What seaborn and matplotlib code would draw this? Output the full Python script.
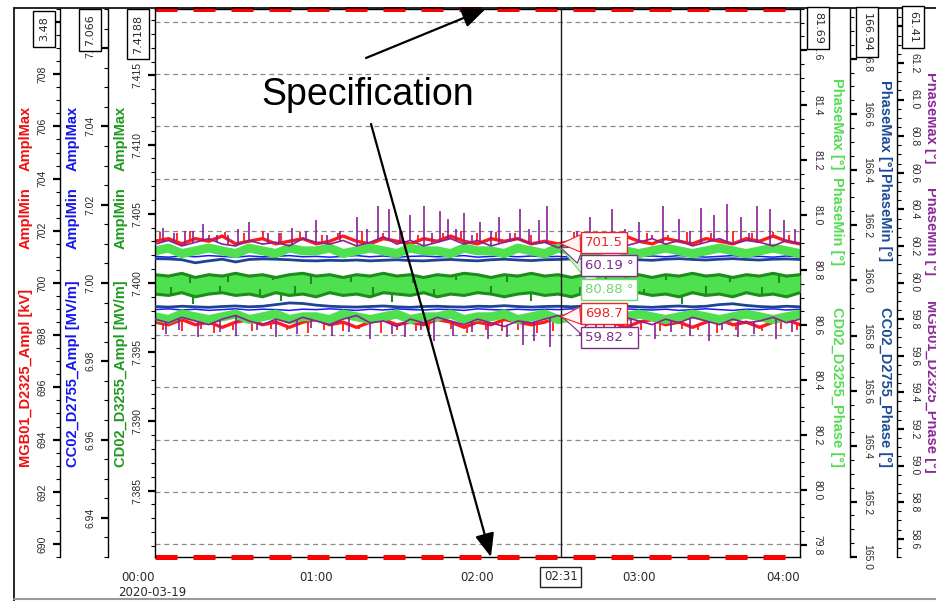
import numpy as np
import pandas as pd
import matplotlib
matplotlib.use("Agg")
import matplotlib.pyplot as plt
import matplotlib.dates as mdates
from matplotlib.lines import Line2D
from matplotlib.ticker import MultipleLocator, FormatStrFormatter
import seaborn as sns

sns.set_style("white")
plt.rcParams["font.family"] = ["Liberation Sans", "DejaVu Sans"]

# ---------------------------------------------------------------- data
DAY = "2020-03-19"
CURSOR = "02:31"
minutes = [0, 5, 10, 15, 20, 25, 30, 35, 40, 45, 50, 55, 60, 65, 70, 75, 80,
           85, 90, 95, 100, 105, 110, 115, 120, 125, 130, 135, 140, 145, 150,
           155, 160, 165, 170, 175, 180, 185, 190, 195, 200, 205, 210, 215,
           220, 225, 230, 235, 240]

# MGB01_D2325 amplitude [kV]
mgb_ampl_max = [701.6, 701.7, 701.5, 701.7, 701.6, 701.8, 701.5,
                701.6, 701.7, 701.5, 701.6, 701.7, 701.5, 701.6,
                701.8, 701.6, 701.5, 701.7, 701.6, 701.5, 701.7,
                701.6, 701.8, 701.6, 701.5, 701.7, 701.6, 701.7,
                701.5, 701.6, 701.5, 701.6, 701.7, 701.5, 701.6,
                701.8, 701.6, 701.5, 701.7, 701.6, 701.5, 701.7,
                701.6, 701.5, 701.7, 701.6, 701.8, 701.6, 701.5]
mgb_ampl_min = [698.5, 698.4, 698.6, 698.4, 698.5, 698.3, 698.5,
                698.6, 698.4, 698.5, 698.3, 698.5, 698.6, 698.4,
                698.5, 698.3, 698.5, 698.6, 698.4, 698.5, 698.4,
                698.6, 698.5, 698.3, 698.5, 698.4, 698.6, 698.5,
                698.4, 698.5, 698.7, 698.5, 698.4, 698.6, 698.5,
                698.3, 698.5, 698.6, 698.4, 698.5, 698.3, 698.5,
                698.6, 698.4, 698.5, 698.3, 698.5, 698.6, 698.4]
mgb_ampl_max_peak_t = [2, 8, 13, 20, 26, 33, 40, 47, 54, 62,
                       68, 77, 85, 92, 98, 107, 114, 120, 127, 134,
                       140, 156, 163, 174, 183, 191, 198, 207, 215, 222,
                       230, 236]
mgb_ampl_max_peak_v = [701.95, 701.9, 702.0, 701.85, 701.95, 701.9, 702.0, 701.9, 701.95, 701.85,
                       701.9, 702.0, 701.9, 701.95, 701.85, 701.9, 702.0, 701.9, 701.95, 701.9,
                       701.85, 701.95, 701.9, 702.0, 701.9, 701.85, 701.95, 701.9, 702.0, 701.9,
                       701.95, 701.85]
mgb_ampl_min_peak_t = [3, 10, 17, 22, 29, 36, 43, 49, 57, 63,
                       70, 76, 84, 90, 97, 102, 110, 116, 123, 129,
                       135, 142, 148, 160, 167, 173, 181, 188, 196, 202,
                       209, 216, 226, 233, 239]
mgb_ampl_min_peak_v = [698.2, 698.15, 698.25, 698.1, 698.2, 698.15, 698.25, 698.2, 698.1, 698.2,
                       698.15, 698.25, 698.1, 698.2, 698.15, 698.2, 698.25, 698.1, 698.2, 698.15,
                       698.2, 698.1, 698.15, 698.25, 698.2, 698.1, 698.2, 698.15, 698.25, 698.2,
                       698.1, 698.2, 698.15, 698.25, 698.2]

# MGB01_D2325 phase [deg]
mgb_phase_max = [60.21, 60.23, 60.20, 60.22, 60.24, 60.21, 60.20,
                 60.23, 60.21, 60.22, 60.20, 60.24, 60.22, 60.21,
                 60.23, 60.20, 60.22, 60.25, 60.21, 60.23, 60.20,
                 60.22, 60.24, 60.21, 60.23, 60.20, 60.22, 60.24,
                 60.21, 60.22, 60.19, 60.22, 60.24, 60.21, 60.23,
                 60.20, 60.22, 60.24, 60.21, 60.23, 60.20, 60.22,
                 60.24, 60.21, 60.23, 60.22, 60.20, 60.23, 60.21]
mgb_phase_min = [59.80, 59.78, 59.81, 59.79, 59.77, 59.80, 59.82,
                 59.79, 59.77, 59.80, 59.78, 59.81, 59.79, 59.77,
                 59.80, 59.82, 59.78, 59.79, 59.76, 59.80, 59.78,
                 59.81, 59.79, 59.77, 59.80, 59.78, 59.76, 59.79,
                 59.78, 59.80, 59.82, 59.79, 59.77, 59.80, 59.78,
                 59.81, 59.79, 59.77, 59.80, 59.78, 59.81, 59.79,
                 59.77, 59.80, 59.78, 59.79, 59.81, 59.78, 59.80]
mgb_phase_max_peak_t = [3, 11, 18, 27, 35, 42, 51, 60, 69, 75,
                        83, 87, 95, 100, 106, 109, 115, 121, 128, 136,
                        143, 146, 162, 170, 180, 189, 195, 203, 208, 213,
                        218, 224, 229, 234,
                        7, 14, 23, 31, 46, 56, 64, 79, 91, 103,
                        112, 118, 125, 132, 139, 157, 166, 175, 185, 199,
                        221, 238]
mgb_phase_max_peak_v = [60.30, 60.28, 60.32, 60.26, 60.33, 60.27, 60.30, 60.34, 60.28, 60.36,
                        60.42, 60.40, 60.37, 60.42, 60.39, 60.35, 60.38, 60.33, 60.36, 60.40,
                        60.34, 60.42, 60.36, 60.40, 60.33, 60.42, 60.35, 60.41, 60.37, 60.43,
                        60.36, 60.42, 60.40, 60.34,
                        60.27, 60.28, 60.26, 60.29, 60.27, 60.28, 60.26, 60.29, 60.28, 60.27,
                        60.29, 60.26, 60.28, 60.27, 60.29, 60.28, 60.27, 60.29, 60.26, 60.28,
                        60.27, 60.29]
mgb_phase_min_peak_t = [4, 9, 16, 24, 30, 38, 45, 53, 58, 66,
                        72, 80, 88, 93, 99, 104, 111, 118, 124, 131,
                        137, 141, 147, 158, 164, 171, 177, 186, 192, 199,
                        206, 211, 217, 223, 231, 237]
mgb_phase_min_peak_v = [59.72, 59.74, 59.70, 59.73, 59.71, 59.74, 59.70, 59.72, 59.75, 59.71,
                        59.73, 59.69, 59.72, 59.70, 59.74, 59.68, 59.71, 59.73, 59.69, 59.70,
                        59.66, 59.68, 59.65, 59.71, 59.74, 59.70, 59.72, 59.69, 59.73, 59.71,
                        59.68, 59.74, 59.70, 59.72, 59.69, 59.73]

# CC02_D2755 amplitude [MV/m]
cc_ampl_max = [7.0068, 7.0066, 7.0069, 7.0067, 7.0070, 7.0068, 7.0066,
               7.0069, 7.0067, 7.0068, 7.0070, 7.0067, 7.0068, 7.0066,
               7.0068, 7.0070, 7.0067, 7.0069, 7.0066, 7.0068, 7.0069,
               7.0067, 7.0068, 7.0070, 7.0066, 7.0068, 7.0069, 7.0067,
               7.0069, 7.0067, 7.0068, 7.0066, 7.0069, 7.0070, 7.0068,
               7.0066, 7.0068, 7.0069, 7.0067, 7.0070, 7.0068, 7.0066,
               7.0068, 7.0070, 7.0067, 7.0068, 7.0066, 7.0069, 7.0067]
cc_ampl_min = [6.9932, 6.9934, 6.9931, 6.9933, 6.9930, 6.9932, 6.9934,
               6.9931, 6.9933, 6.9932, 6.9930, 6.9933, 6.9932, 6.9934,
               6.9932, 6.9930, 6.9933, 6.9931, 6.9934, 6.9932, 6.9931,
               6.9933, 6.9932, 6.9930, 6.9934, 6.9932, 6.9931, 6.9933,
               6.9931, 6.9933, 6.9932, 6.9934, 6.9931, 6.9930, 6.9932,
               6.9934, 6.9932, 6.9931, 6.9933, 6.9930, 6.9932, 6.9934,
               6.9932, 6.9930, 6.9933, 6.9932, 6.9934, 6.9931, 6.9933]

# CC02_D2755 phase [deg]
cc_phase_max = [166.078, 166.077, 166.074, 166.063, 166.070, 166.076, 166.066,
                166.075, 166.077, 166.076, 166.074, 166.071, 166.070, 166.072,
                166.071, 166.073, 166.070, 166.072, 166.074, 166.071, 166.070,
                166.073, 166.075, 166.072, 166.070, 166.074, 166.076, 166.073,
                166.071, 166.074, 166.075, 166.077, 166.074, 166.072, 166.075,
                166.077, 166.074, 166.072, 166.076, 166.078, 166.075, 166.073,
                166.076, 166.078, 166.075, 166.073, 166.076, 166.077, 166.075]
cc_phase_min = [165.905, 165.903, 165.906, 165.904, 165.902, 165.905, 165.907,
                165.904, 165.906, 165.912, 165.918, 165.916, 165.910, 165.906,
                165.904, 165.903, 165.905, 165.907, 165.904, 165.902, 165.905,
                165.906, 165.904, 165.903, 165.906, 165.905, 165.908, 165.905,
                165.903, 165.905, 165.906, 165.904, 165.907, 165.905, 165.903,
                165.906, 165.904, 165.902, 165.905, 165.907, 165.904, 165.906,
                165.912, 165.915, 165.909, 165.905, 165.903, 165.906, 165.904]

# CD02_D3255 amplitude [MV/m]
cd_ampl_max = [7.4006, 7.4005, 7.4007, 7.4004, 7.4006, 7.4005, 7.4007,
               7.4005, 7.4006, 7.4004, 7.4006, 7.4007, 7.4005, 7.4006,
               7.4004, 7.4006, 7.4005, 7.4007, 7.4005, 7.4006, 7.4004,
               7.4006, 7.4005, 7.4007, 7.4006, 7.4004, 7.4006, 7.4005,
               7.4007, 7.4005, 7.4006, 7.4004, 7.4006, 7.4005, 7.4007,
               7.4005, 7.4006, 7.4004, 7.4006, 7.4005, 7.4007, 7.4005,
               7.4006, 7.4004, 7.4006, 7.4005, 7.4007, 7.4005, 7.4006]
cd_ampl_min = [7.3992, 7.3991, 7.3993, 7.3990, 7.3992, 7.3993, 7.3991,
               7.3992, 7.3990, 7.3993, 7.3991, 7.3992, 7.3990, 7.3993,
               7.3991, 7.3992, 7.3990, 7.3993, 7.3992, 7.3991, 7.3993,
               7.3990, 7.3992, 7.3991, 7.3993, 7.3992, 7.3990, 7.3992,
               7.3993, 7.3991, 7.3992, 7.3990, 7.3993, 7.3991, 7.3992,
               7.3990, 7.3993, 7.3991, 7.3992, 7.3990, 7.3993, 7.3991,
               7.3992, 7.3990, 7.3993, 7.3991, 7.3992, 7.3990, 7.3993]
cd_ampl_max_peak_t = [13, 27, 44, 58, 73, 96, 112, 131, 168, 190, 214, 232]
cd_ampl_max_peak_v = [7.4000, 7.4001, 7.4002, 7.3999, 7.4001, 7.4000,
                      7.4002, 7.4001, 7.4000, 7.4002, 7.4001, 7.4000]
cd_ampl_min_peak_t = [6, 24, 39, 52, 81, 104, 125, 158, 182, 205, 226,
                      14, 47, 88, 140, 196]
cd_ampl_min_peak_v = [7.3997, 7.3998, 7.3996, 7.3998, 7.3997, 7.3996,
                      7.3998, 7.3997, 7.3996, 7.3998, 7.3997,
                      7.3985, 7.3987, 7.3986, 7.3987, 7.3985]

# CD02_D3255 phase [deg]
cd_phase_max = [80.87, 80.88, 80.86, 80.87, 80.88, 80.87, 80.86,
                80.88, 80.87, 80.86, 80.88, 80.87, 80.87, 80.88,
                80.86, 80.87, 80.88, 80.87, 80.86, 80.88, 80.87,
                80.87, 80.86, 80.88, 80.87, 80.87, 80.86, 80.88,
                80.87, 80.86, 80.88, 80.87, 80.86, 80.87, 80.88,
                80.87, 80.86, 80.87, 80.88, 80.87, 80.86, 80.87,
                80.88, 80.87, 80.86, 80.87, 80.88, 80.87, 80.86]
cd_phase_min = [80.63, 80.62, 80.64, 80.63, 80.62, 80.63, 80.64,
                80.62, 80.63, 80.64, 80.62, 80.63, 80.63, 80.62,
                80.64, 80.63, 80.62, 80.63, 80.64, 80.62, 80.63,
                80.63, 80.64, 80.62, 80.63, 80.63, 80.64, 80.62,
                80.63, 80.64, 80.62, 80.63, 80.64, 80.63, 80.62,
                80.63, 80.64, 80.63, 80.62, 80.63, 80.64, 80.63,
                80.62, 80.63, 80.64, 80.63, 80.62, 80.63, 80.64]

# specification limits of the MGB01 amplitude [kV]
spec_limits = [689.5, 710.5]

# value shown in the box at the top of each axis
axis_top_labels = ["3.48", "7.066", "7.4188", "81.69", "166.94", "61.41"]

# ---------------------------------------------------------------- colours
RED = "#ff1a1a"
PURPLE = "#8c1f96"
BLUE = "#1a1aff"
NAVY = "#1d4492"
DGREEN = "#1d8c1d"
LGREEN = "#4fe04f"

W, H = 937, 601
fig = plt.figure(figsize=(W / 100, H / 100), dpi=100)


def fx(px):
    return px / W


def fy(py):
    return 1 - py / H


t0 = pd.Timestamp(DAY)
times = t0 + pd.to_timedelta(minutes, unit="min")


def stamp(mins):
    return t0 + pd.to_timedelta(mins, unit="min")


ax_mgb_a = fig.add_axes([fx(155), fy(557), 645 / W, 548 / H])
ax_cc_a = ax_mgb_a.twinx()
ax_cd_p = ax_mgb_a.twinx()
ax_cd_a = ax_mgb_a.twinx()
ax_cc_p = ax_mgb_a.twinx()
ax_mgb_p = ax_mgb_a.twinx()
for z, ax in enumerate([ax_mgb_a, ax_cc_a, ax_cd_p, ax_cd_a, ax_cc_p, ax_mgb_p]):
    ax.set_zorder(z + 1)
    if z:
        ax.patch.set_visible(False)

# ---------------------------------------------------------------- traces
ax_mgb_a.yaxis.grid(True, which="major", color="#8a8a8a", lw=0.9, ls=(0, (4, 3)))
ax_mgb_a.set_axisbelow(True)


def spikes(ax, base, pt, pv, color, lw):
    base_vals = np.interp(pt, minutes, base)
    ax.vlines(stamp(pt), base_vals, pv, color=color, lw=lw)


sns.lineplot(x=times, y=mgb_ampl_max, ax=ax_mgb_a, color=RED, linewidth=2.4)
sns.lineplot(x=times, y=mgb_ampl_min, ax=ax_mgb_a, color=RED, linewidth=2.4)
spikes(ax_mgb_a, mgb_ampl_max, mgb_ampl_max_peak_t, mgb_ampl_max_peak_v, RED, 1.3)
spikes(ax_mgb_a, mgb_ampl_min, mgb_ampl_min_peak_t, mgb_ampl_min_peak_v, RED, 1.3)

sns.lineplot(x=times, y=cc_ampl_max, ax=ax_cc_a, color=BLUE, linewidth=1.1)
sns.lineplot(x=times, y=cc_ampl_min, ax=ax_cc_a, color=BLUE, linewidth=1.1)

sns.lineplot(x=times, y=cd_phase_max, ax=ax_cd_p, color=LGREEN, linewidth=6.5)
sns.lineplot(x=times, y=cd_phase_min, ax=ax_cd_p, color=LGREEN, linewidth=6.5)

ax_cd_a.fill_between(times, cd_ampl_max, cd_ampl_min, color=LGREEN, lw=0)
sns.lineplot(x=times, y=cd_ampl_max, ax=ax_cd_a, color=DGREEN, linewidth=2.2)
sns.lineplot(x=times, y=cd_ampl_min, ax=ax_cd_a, color=DGREEN, linewidth=2.2)
spikes(ax_cd_a, cd_ampl_max, cd_ampl_max_peak_t, cd_ampl_max_peak_v, DGREEN, 1.5)
spikes(ax_cd_a, cd_ampl_min, cd_ampl_min_peak_t, cd_ampl_min_peak_v, DGREEN, 1.5)

sns.lineplot(x=times, y=cc_phase_max, ax=ax_cc_p, color=NAVY, linewidth=2.0)
sns.lineplot(x=times, y=cc_phase_min, ax=ax_cc_p, color=NAVY, linewidth=2.0)

sns.lineplot(x=times, y=mgb_phase_max, ax=ax_mgb_p, color=PURPLE, linewidth=1.2)
sns.lineplot(x=times, y=mgb_phase_min, ax=ax_mgb_p, color=PURPLE, linewidth=1.2)
spikes(ax_mgb_p, mgb_phase_max, mgb_phase_max_peak_t, mgb_phase_max_peak_v, PURPLE, 1.2)
spikes(ax_mgb_p, mgb_phase_min, mgb_phase_min_peak_t, mgb_phase_min_peak_v, PURPLE, 1.2)

# specification limits drawn on the frame
for lim in spec_limits:
    ax_mgb_a.axhline(lim, color="#ff0000", lw=3.6, ls=(0, (4.4, 3.2)),
                     zorder=5, clip_on=False)

# ---------------------------------------------------------------- axes
ax_mgb_a.set_xlim(t0, stamp(240))
ax_mgb_a.set_ylim(*spec_limits)
ax_cc_a.set_ylim(6.930, 7.070)
ax_cd_a.set_ylim(7.3802, 7.4198)
ax_cd_p.set_ylim(79.756, 81.75)
ax_cc_p.set_ylim(165.0, 166.98)
ax_mgb_p.set_ylim(58.50, 61.495)

axis_specs = [
    # axis, side, spine position, major, minor, format
    (ax_mgb_a, "left", -95 / 645, 2, 0.5, "%d"),
    (ax_cc_a, "left", -47 / 645, 0.02, 0.005, "%.2f"),
    (ax_cd_a, "left", 0.0, 0.005, 0.001, "%.3f"),
    (ax_cd_p, "right", 1.0, 0.2, 0.05, "%.1f"),
    (ax_cc_p, "right", 695 / 645, 0.2, 0.05, "%.1f"),
    (ax_mgb_p, "right", 742 / 645, 0.2, 0.05, "%.1f"),
]
for ax, side, pos, major, minor, fmt in axis_specs:
    for s in ["top", "bottom", "left", "right"]:
        ax.spines[s].set_visible(False)
    ax.spines[side].set_visible(True)
    ax.spines[side].set_position(("axes", pos))
    ax.spines[side].set_color("black")
    ax.spines[side].set_linewidth(1.0)
    if side == "left":
        ax.yaxis.set_ticks_position("left")
    else:
        ax.yaxis.set_ticks_position("right")
    ax.yaxis.set_major_locator(MultipleLocator(major))
    ax.yaxis.set_minor_locator(MultipleLocator(minor))
    ax.yaxis.set_major_formatter(FormatStrFormatter(fmt))
    ax.tick_params(axis="y", which="major", length=5, width=1.6, direction="out",
                   colors="black", labelcolor="#2a2a2a", labelsize=7.5, pad=4,
                   labelrotation=90 if side == "left" else 270)
    ax.tick_params(axis="y", which="minor", length=3, width=0.8, direction="out",
                   colors="black")
    ax.set_ylabel("")
    ax.set_xlabel("")

ax_mgb_a.spines["top"].set_visible(True)
ax_mgb_a.spines["bottom"].set_visible(True)
for s in ["top", "bottom"]:
    ax_mgb_a.spines[s].set_color("black")
    ax_mgb_a.spines[s].set_linewidth(1.0)

ax_mgb_a.xaxis.set_major_locator(mdates.HourLocator())
ax_mgb_a.xaxis.set_major_formatter(mdates.DateFormatter("%H:%M"))
ax_mgb_a.xaxis.set_minor_locator(mdates.MinuteLocator(byminute=[15, 30, 45]))
ax_mgb_a.tick_params(axis="x", which="major", length=6, width=1.8, direction="out",
                     colors="black", labelcolor="#2a2a2a", labelsize=8.5, pad=4)
ax_mgb_a.tick_params(axis="x", which="minor", length=3, width=0.8, direction="out",
                     colors="black")

# ---------------------------------------------------------------- cursor
cursor_t = pd.Timestamp(f"{DAY} {CURSOR}")
cursor_x = mdates.date2num(cursor_t)
ax_mgb_p.axvline(cursor_t, color="#1a1a1a", lw=1.0, zorder=6)
ax_mgb_p.annotate(CURSOR, xy=(cursor_x, 0), xycoords=ax_mgb_p.get_xaxis_transform(),
                  xytext=(0, -20), textcoords="offset pixels", ha="center", va="center",
                  fontsize=8.5, family="DejaVu Sans", color="#2a2a2a",
                  bbox=dict(boxstyle="square,pad=0.3", fc="white", ec="#222", lw=1),
                  annotation_clip=False, zorder=30)

i = minutes.index(150)
callouts = [
    (ax_cd_p, cd_phase_max[i], f"{cd_phase_max[i]:.2f} °", "#6fd66f", -41, "#d2f6d2"),
    (ax_mgb_p, mgb_phase_max[i], f"{mgb_phase_max[i]:.2f} °", "#7d2b8c", -18, "white"),
    (ax_mgb_a, mgb_ampl_max[i], f"{mgb_ampl_max[i]:.1f}", "#e8262a", 1, "#fff4f4"),
    (ax_mgb_p, mgb_phase_min[i], f"{mgb_phase_min[i]:.2f} °", "#7d2b8c", -22, "white"),
    (ax_mgb_a, mgb_ampl_min[i], f"{mgb_ampl_min[i]:.1f}", "#e8262a", 3, "#fff4f4"),
]
for src, val, txt, col, dy, face in callouts:
    ax_mgb_p.annotate(
        txt, xy=(cursor_x, val), xycoords=src.transData,
        xytext=(24, dy), textcoords="offset pixels", ha="left", va="center",
        fontsize=9.5, family="DejaVu Sans", color=col,
        bbox=dict(boxstyle="square,pad=0.3", fc="white", ec=col, lw=1),
        arrowprops=dict(arrowstyle="wedge,tail_width=1.3,shrink_factor=0.5",
                        fc=face, ec=col, lw=0.8, shrinkA=0, shrinkB=0),
        annotation_clip=False, zorder=31)

# ---------------------------------------------------------------- specification note
fig.text(fx(368), fy(95), "Specification", fontsize=27, ha="center", va="center",
         color="black", zorder=40)
arrow_heads = [(stamp(123), spec_limits[1], (366, 58)),
               (stamp(125), spec_limits[0], (371, 124))]
for t_head, lim, (tx, ty) in arrow_heads:
    ax_mgb_p.annotate("", xy=(mdates.date2num(t_head), lim), xycoords=ax_mgb_a.transData,
                      xytext=(tx, H - ty), textcoords="figure pixels",
                      arrowprops=dict(arrowstyle="-|>,head_length=1.1,head_width=0.45",
                                      color="black", lw=1.6, shrinkA=0, shrinkB=0,
                                      mutation_scale=13),
                      annotation_clip=False, zorder=40)

# ---------------------------------------------------------------- axis titles
def vlabel(x, y, s, color, rot):
    fig.text(fx(x), fy(y), s, color=color, rotation=rot, rotation_mode="anchor",
             ha="left", va="center", fontsize=10.5, fontweight="bold",
             family="Liberation Sans", zorder=10)


for x, col, name in [(26, "#ee1111", "MGB01_D2325_Ampl [kV]"),
                     (73, "#1515ee", "CC02_D2755_Ampl [MV/m]"),
                     (121, "#1e9a1e", "CD02_D3255_Ampl [MV/m]")]:
    vlabel(x, 467, name, col, 90)
    vlabel(x, 249, "AmplMin", col, 90)
    vlabel(x, 171, "AmplMax", col, 90)

for x, col, name, ys in [(837, "#55dd55", "CD02_D3255_Phase [°]", (78, 177, 307)),
                         (885, "#1d4c96", "CC02_D2755_Phase [°]", (80, 173, 307)),
                         (931, "#8a2a96", "MGB01_D2325_Phase [°]", (72, 187, 300))]:
    vlabel(x, ys[0], "PhaseMax [°]", col, 270)
    vlabel(x, ys[1], "PhaseMin [°]", col, 270)
    vlabel(x, ys[2], name, col, 270)

# boxes with the value at the top of each axis
for (x, y, rot), txt in zip([(44, 29, 90), (90, 30, 90), (138, 34, 90),
                             (818, 28, 270), (867, 32, 270), (913, 27, 270)],
                            axis_top_labels):
    fig.text(fx(x), fy(y), txt, rotation=rot, ha="center", va="center",
             fontsize=8, family="DejaVu Sans", color="#2a2a2a",
             bbox=dict(boxstyle="square,pad=0.5", fc="white", ec="black", lw=1),
             zorder=20)

fig.text(fx(118), fy(592), DAY, ha="left", va="center", fontsize=8.5,
         family="DejaVu Sans", color="#2a2a2a")

# outer frame
fig.add_artist(Line2D([fx(14), fx(14)], [0, fy(8)], color="black", lw=1.2,
                      transform=fig.transFigure))
fig.add_artist(Line2D([fx(14), 1], [fy(8), fy(8)], color="black", lw=1.2,
                      transform=fig.transFigure))
fig.add_artist(Line2D([fx(14), 1], [fy(599), fy(599)], color="#9a9a9a", lw=1.5,
                      transform=fig.transFigure))

# tick label cosmetics; labels lying fully under a top box are not drawn
covered = {ax_mgb_a: 710.0, ax_mgb_p: 61.4}
for ax, side, *_ in axis_specs:
    locs = ax.yaxis.get_majorticklocs()
    for loc, tk in zip(locs, ax.yaxis.get_major_ticks()):
        tk.label1.set_va("center")
        tk.label2.set_va("center")
        if ax in covered and abs(loc - covered[ax]) < 1e-6:
            tk.label1.set_visible(False)
            tk.label2.set_visible(False)
xticks = ax_mgb_a.xaxis.get_major_ticks()
for tk in xticks:
    tk.label1.set_fontfamily("DejaVu Sans")
xticks[0].label1.set_ha("right")
xticks[-1].label1.set_ha("right")

fig.savefig("out.png", dpi=100)
